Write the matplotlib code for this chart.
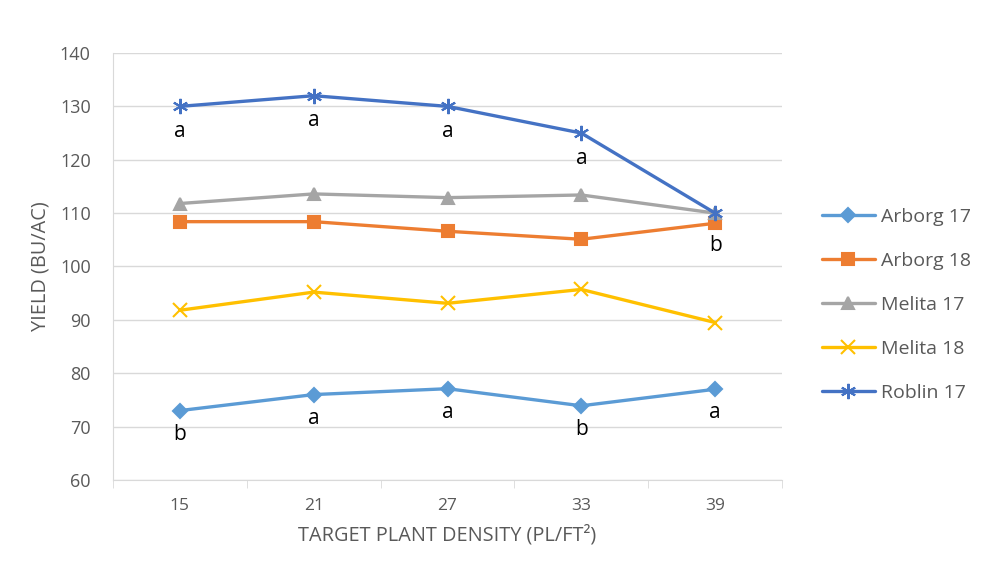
import matplotlib.pyplot as plt

plt.rcParams['font.family'] = ['Open Sans', 'DejaVu Sans']

densities = ['15', '21', '27', '33', '39']
series_names = ['Arborg 17', 'Arborg 18', 'Melita 17', 'Melita 18', 'Roblin 17']
arborg17 = [73.0, 76.0, 77.1, 73.9, 77.0]
arborg18 = [108.4, 108.4, 106.6, 105.1, 108.1]
melita17 = [111.8, 113.6, 112.9, 113.4, 110.0]
melita18 = [91.8, 95.2, 93.1, 95.7, 89.5]
roblin17 = [130.0, 132.0, 130.0, 125.0, 110.0]
arborg17_letters = ['b', 'a', 'a', 'b', 'a']
roblin17_letters = ['a', 'a', 'a', 'a', 'b']

colors = ['#5B9BD5', '#ED7D31', '#A5A5A5', '#FFC000', '#4472C4']
markers = ['D', 's', '^', 'x', (6, 2, 0)]
sizes = [7, 9, 9, 10, 11]

fig = plt.figure(figsize=(9.98, 5.64), dpi=100)
ax = fig.add_axes([0.1132, 0.149, 0.6704, 0.757])

x = list(range(len(densities)))
all_series = [arborg17, arborg18, melita17, melita18, roblin17]
for name, vals, c, m, s in zip(series_names, all_series, colors, markers, sizes):
    ax.plot(x, vals, color=c, lw=2.4, marker=m, ms=s, mew=1.5,
            label=name, solid_capstyle='round', zorder=3)

# significance letters
for i, (v, t) in enumerate(zip(arborg17, arborg17_letters)):
    ax.annotate(t, (i, v), xytext=(0, -17), textcoords='offset points',
                ha='center', va='center', fontsize=15, color='black')
for i, (v, t) in enumerate(zip(roblin17, roblin17_letters)):
    off = -23 if i == 4 else -18
    ax.annotate(t, (i, v), xytext=(0, off), textcoords='offset points',
                ha='center', va='center', fontsize=15, color='black')

ax.set_ylim(60, 140)
ax.set_yticks(range(60, 141, 10))
ax.set_xlim(-0.5, 4.5)
ax.set_xticks(x)
ax.set_xticklabels(densities)
ax.set_xticks([i - 0.5 for i in range(6)], minor=True)

ax.grid(axis='y', color='#D9D9D9', lw=1)
ax.set_axisbelow(True)
for sp in ['top', 'right']:
    ax.spines[sp].set_visible(False)
ax.spines['left'].set_color('#D9D9D9')
ax.spines['bottom'].set_color('#D9D9D9')
ax.tick_params(axis='y', length=0, pad=16, labelsize=13, labelcolor='#595959')
ax.tick_params(axis='x', which='major', length=0, pad=13, labelsize=12.5, labelcolor='#595959')
ax.tick_params(axis='x', which='minor', length=6, color='#D9D9D9')

ax.set_xlabel('TARGET PLANT DENSITY (PL/FT²)', fontsize=14.3, color='#595959', labelpad=8)
ax.set_ylabel('YIELD (BU/AC)', fontsize=14.3, color='#595959', labelpad=7)

ax.legend(loc='center left', bbox_to_anchor=(1.06, 0.41), frameon=False,
          borderaxespad=0, borderpad=0,
          fontsize=14, labelcolor='#595959', handlelength=2.7,
          labelspacing=1.33, handletextpad=0.3)

fig.savefig('out.png', dpi=100)
